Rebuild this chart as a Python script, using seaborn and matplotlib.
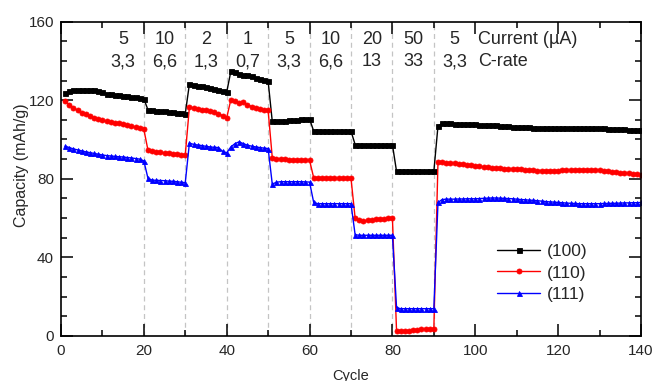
import matplotlib
matplotlib.use("Agg")
import matplotlib.pyplot as plt
from matplotlib.ticker import MultipleLocator
import numpy as np
import pandas as pd
import seaborn as sns

# ---------------------------------------------------------------------------
# Data
# ---------------------------------------------------------------------------

cycles = list(range(1, 141))

cap_100 = [
    123.6, 124.6, 125.3, 125.4, 125.4, 125.3, 125.2, 125.0, 124.6, 124.1,
    123.2, 123.1, 122.9, 122.7, 122.4, 122.2, 121.9, 121.6, 121.2, 120.7,
    115.1, 114.8, 114.6, 114.4, 114.3, 114.1, 113.9, 113.6, 113.4, 113.1,
    128.3, 127.9, 127.5, 127.2, 126.8, 126.4, 125.9, 125.3, 124.7, 124.1,
    134.7, 134.2, 133.6, 133.0, 132.6, 132.2, 131.5, 130.8, 130.3, 129.7,
    109.2, 109.3, 109.4, 109.5, 109.7, 109.8, 110.0, 110.2, 110.3, 110.4,
    104.3, 104.3, 104.3, 104.3, 104.3, 104.3, 104.3, 104.3, 104.3, 104.3,
    97.4, 97.4, 97.4, 97.4, 97.4, 97.4, 97.4, 97.4, 97.4, 97.4,
    83.7, 83.7, 83.7, 83.7, 83.7, 83.7, 83.7, 83.7, 83.7, 83.7,
    106.9, 108.2, 108.3, 108.2, 108.1, 108.0, 107.9, 107.9, 107.8, 107.7,
    107.6, 107.5, 107.4, 107.3, 107.2, 107.0, 106.9, 106.8, 106.6, 106.5,
    106.4, 106.3, 106.2, 106.1, 106.0, 105.9, 105.8, 105.8, 105.7, 105.7,
    105.7, 105.7, 105.8, 105.8, 105.8, 105.8, 105.7, 105.7, 105.7, 105.7,
    105.6, 105.5, 105.4, 105.3, 105.2, 105.1, 105.0, 105.0, 104.9, 104.8,
]

cap_110 = [
    119.4, 117.7, 116.1, 114.8, 113.6, 112.8, 111.8, 111.1, 110.4, 109.7,
    109.2, 108.9, 108.5, 108.2, 107.7, 107.2, 106.7, 106.2, 105.7, 105.2,
    94.5, 94.0, 93.7, 93.4, 93.2, 93.0, 92.8, 92.5, 92.3, 92.2,
    116.5, 116.0, 115.5, 115.1, 114.8, 114.5, 113.9, 113.2, 112.1, 111.1,
    120.2, 119.4, 118.7, 118.9, 117.7, 116.8, 116.1, 115.5, 115.1, 114.8,
    90.8, 90.3, 90.1, 89.9, 89.8, 89.7, 89.6, 89.5, 89.5, 89.4,
    80.5, 80.2, 80.2, 80.2, 80.2, 80.2, 80.2, 80.2, 80.2, 80.3,
    60.0, 58.8, 58.6, 58.8, 59.1, 59.3, 59.5, 59.6, 59.8, 60.0,
    2.4, 2.4, 2.5, 2.6, 2.9, 3.0, 3.3, 3.4, 3.5, 3.6,
    88.7, 88.4, 88.2, 88.1, 87.9, 87.7, 87.4, 87.2, 86.9, 86.7,
    86.4, 86.1, 85.9, 85.6, 85.4, 85.3, 85.2, 85.1, 85.0, 84.9,
    84.8, 84.6, 84.5, 84.3, 84.2, 84.2, 84.2, 84.2, 84.2, 84.2,
    84.3, 84.4, 84.5, 84.6, 84.7, 84.7, 84.6, 84.6, 84.5, 84.5,
    84.2, 83.9, 83.6, 83.4, 83.1, 82.9, 82.7, 82.4, 82.2, 82.0,
]

cap_111 = [
    96.6, 95.9, 95.2, 94.7, 94.2, 93.7, 93.3, 92.9, 92.5, 92.1,
    91.8, 91.6, 91.4, 91.2, 91.1, 90.8, 90.6, 90.3, 90.0, 89.1,
    80.2, 79.3, 79.2, 79.1, 79.0, 78.8, 78.7, 78.5, 78.2, 78.0,
    98.2, 97.5, 97.2, 96.9, 96.5, 96.2, 96.0, 95.9, 94.0, 93.2,
    96.2, 97.9, 98.8, 97.9, 97.1, 96.6, 96.2, 95.9, 95.6, 95.4,
    77.3, 78.2, 78.5, 78.5, 78.5, 78.5, 78.5, 78.5, 78.4, 78.3,
    67.9, 67.3, 67.3, 67.3, 67.3, 67.3, 67.3, 67.3, 67.3, 67.3,
    51.5, 51.2, 51.2, 51.2, 51.2, 51.2, 51.2, 51.2, 51.2, 51.2,
    14.3, 13.8, 13.8, 13.8, 13.8, 13.8, 13.8, 13.8, 13.8, 13.8,
    67.9, 69.4, 69.6, 69.6, 69.6, 69.7, 69.7, 69.8, 69.8, 69.8,
    69.9, 70.0, 70.1, 70.2, 70.2, 70.1, 70.0, 69.9, 69.8, 69.6,
    69.4, 69.3, 69.1, 69.0, 68.8, 68.6, 68.4, 68.2, 68.1, 67.9,
    67.8, 67.6, 67.5, 67.4, 67.3, 67.3, 67.3, 67.3, 67.3, 67.3,
    67.4, 67.4, 67.5, 67.5, 67.6, 67.7, 67.7, 67.8, 67.8, 67.9,
]

series_names = ["(100)", "(110)", "(111)"]

# rate steps: last cycle of each step, current and C-rate labels
step_ends = [20, 30, 40, 50, 60, 70, 80, 90, 100]
currents = ["5", "10", "2", "1", "5", "10", "20", "50", "5"]
c_rates = ["3,3", "6,6", "1,3", "0,7", "3,3", "6,6", "13", "33", "3,3"]

# ---------------------------------------------------------------------------
# Plot
# ---------------------------------------------------------------------------

sns.set_style("ticks")
plt.rcParams["font.family"] = ["Liberation Sans", "DejaVu Sans"]

df = pd.DataFrame({
    "Cycle": cycles * 3,
    "Capacity": cap_100 + cap_110 + cap_111,
    "Sample": [n for n in series_names for _ in cycles],
})

colors = {"(100)": "black", "(110)": "#ff0000", "(111)": "#0000ff"}
markers = {"(100)": "s", "(110)": "o", "(111)": "^"}

fig = plt.figure(figsize=(6.55, 3.81), dpi=100)
ax = fig.add_axes([0.0931, 0.1187, 0.8855, 0.8243])

# step boundaries
for b in step_ends[:-1]:
    ax.axvline(b, color="#c4c4c4", lw=0.9, ls=(0, (4, 3)), zorder=0)

for name in series_names:
    sub = df[df["Sample"] == name]
    sns.lineplot(
        data=sub, x="Cycle", y="Capacity", ax=ax,
        color=colors[name], marker=markers[name], markersize=3.6,
        markeredgewidth=0.6, markeredgecolor=colors[name],
        lw=1.0, label=name,
    )

for end, cur, cr in zip(step_ends, currents, c_rates):
    ax.text(end - 5, 151, cur, ha="center", va="center", fontsize=13)
    ax.text(end - 5, 139.5, cr, ha="center", va="center", fontsize=13)
ax.text(100.6, 151, "Current (µA)", ha="left", va="center", fontsize=13)
ax.text(100.6, 139.5, "C-rate", ha="left", va="center", fontsize=13)

ax.set_xlim(0, 140)
ax.set_ylim(0, 160)
ax.xaxis.set_major_locator(MultipleLocator(20))
ax.xaxis.set_minor_locator(MultipleLocator(10))
ax.yaxis.set_major_locator(MultipleLocator(40))
ax.yaxis.set_minor_locator(MultipleLocator(10))
ax.tick_params(which="both", direction="in", top=True, right=True,
               width=1.1, color="black", labelsize=11)
ax.tick_params(axis="x", pad=6)
ax.tick_params(axis="y", pad=5)
ax.tick_params(which="major", length=8.5)
ax.tick_params(which="minor", length=4.5)
for sp in ax.spines.values():
    sp.set_linewidth(1.2)
    sp.set_color("black")

ax.set_xlabel("Cycle", fontsize=10.5, labelpad=7.5)
ax.set_ylabel("Capacity (mAh/g)", fontsize=11.5)
ax.yaxis.set_label_coords(-0.056, 0.544)

ax.legend(loc="center", bbox_to_anchor=(0.83, 0.2), frameon=False,
          fontsize=12.5, handlelength=2.5, handletextpad=0.4,
          labelspacing=0.38, borderpad=0.2)

fig.savefig("out.png", dpi=100)
